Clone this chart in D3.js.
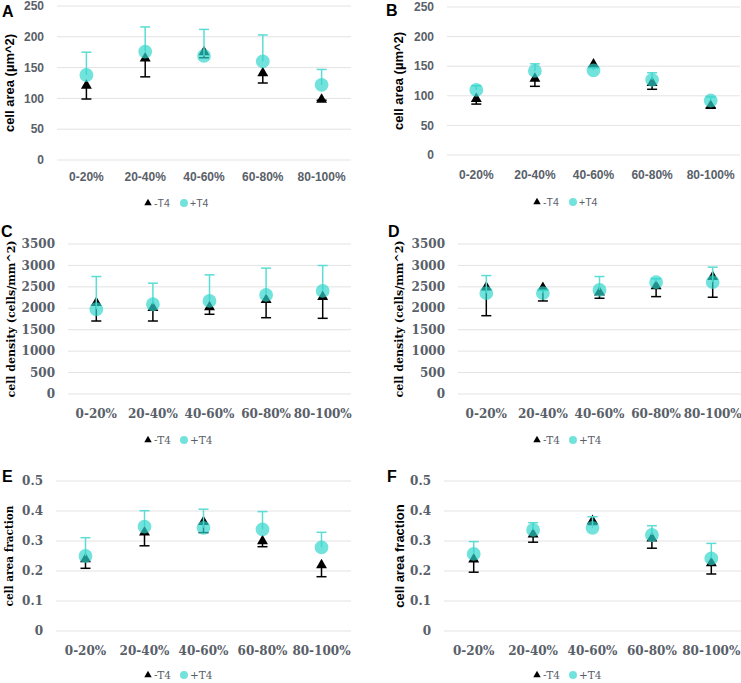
<!DOCTYPE html>
<html>
<head>
<meta charset="utf-8">
<script src="https://cdn.jsdelivr.net/npm/d3@7"></script>
<style>
  body { margin: 0; background: #fff; }
  svg { display: block; }
</style>
</head>
<body>
<svg id="chart"></svg>
<script>
const width = 741;
const height = 683;

const categories = ['0-20%', '20-40%', '40-60%', '60-80%', '80-100%'];
const seriesNames = ['-T4', '+T4'];

// A: cell area (µm^2)
const aMinus = [121, 165, 175, 141, 98];
const aMinusErr = [22, 30, 9, 16, 1];
const aPlus = [138, 176, 169, 160, 122];
const aPlusErr = [37, 40, 43, 43, 25];
const areaTicks = [0, 50, 100, 150, 200, 250];

// B: cell area (µm^2)
const bMinus = [95, 129, 153, 122, 83];
const bMinusErr = [9, 13, 4, 11, 3];
const bPlus = [110, 142, 143, 127, 92];
const bPlusErr = [7, 12, 4, 12, 6];

// C: cell density (cells/mm^2)
const cMinus = [2130, 2010, 2030, 2195, 2265];
const cMinusErr = [427, 307, 170, 415, 499];
const cPlus = [1977, 2094, 2171, 2312, 2406];
const cPlusErr = [764, 492, 609, 625, 592];
const densityTicks = [0, 500, 1000, 1500, 2000, 2500, 3000, 3500];

// D: cell density (cells/mm^2)
const dMinus = [2490, 2480, 2370, 2520, 2733];
const dMinusErr = [663, 309, 136, 248, 475];
const dPlus = [2352, 2352, 2429, 2609, 2609];
const dPlusErr = [412, 70, 312, 80, 351];

// E: cell area fraction
const eMinus = [0.24, 0.329, 0.364, 0.30, 0.22];
const eMinusErr = [0.031, 0.045, 0.036, 0.019, 0.039];
const ePlus = [0.25, 0.348, 0.344, 0.339, 0.279];
const ePlusErr = [0.061, 0.053, 0.062, 0.059, 0.05];
const fractionTicks = [0, 0.1, 0.2, 0.3, 0.4, 0.5];

// F: cell area fraction
const fMinus = [0.239, 0.322, 0.367, 0.309, 0.226];
const fMinusErr = [0.043, 0.026, 0.012, 0.033, 0.036];
const fPlus = [0.257, 0.337, 0.344, 0.32, 0.242];
const fPlusErr = [0.041, 0.024, 0.037, 0.031, 0.05];

const SANS = "'Liberation Sans', Arial, sans-serif";
const SERIF = "'DejaVu Serif', serif";

const panels = [
  { letter: 'A', title: 'cell area (µm^2)', ticks: areaTicks, max: 250,
    minus: aMinus, minusErr: aMinusErr, plus: aPlus, plusErr: aPlusErr,
    x0: 57, x1: 351, yTop: 6, yBot: 160, titleX: 9, letterX: 2, letterY: 17,
    tickFont: SANS, tickSize: 12, titleFont: SANS, titleSize: 13, catY: 181, legY: 203, legX: 148 },
  { letter: 'B', title: 'cell area (µm^2)', ticks: areaTicks, max: 250,
    minus: bMinus, minusErr: bMinusErr, plus: bPlus, plusErr: bPlusErr,
    x0: 447, x1: 740, yTop: 7, yBot: 155, titleX: 398, letterX: 386, letterY: 16,
    tickFont: SANS, tickSize: 12, titleFont: SANS, titleSize: 13, catY: 179, legY: 202, legX: 537 },
  { letter: 'C', title: 'cell density (cells/mm^2)', ticks: densityTicks, max: 3500,
    minus: cMinus, minusErr: cMinusErr, plus: cPlus, plusErr: cPlusErr,
    x0: 68, x1: 351, yTop: 244, yBot: 394, titleX: 11, letterX: 1, letterY: 237,
    tickFont: SERIF, tickSize: 12, titleFont: SERIF, titleSize: 11, catY: 418, legY: 440, legX: 148 },
  { letter: 'D', title: 'cell density (cells/mm^2)', ticks: densityTicks, max: 3500,
    minus: dMinus, minusErr: dMinusErr, plus: dPlus, plusErr: dPlusErr,
    x0: 458, x1: 741, yTop: 244, yBot: 394, titleX: 399, letterX: 388, letterY: 237,
    tickFont: SERIF, tickSize: 12, titleFont: SERIF, titleSize: 11, catY: 418, legY: 440, legX: 537 },
  { letter: 'E', title: 'cell area fraction', ticks: fractionTicks, max: 0.5,
    minus: eMinus, minusErr: eMinusErr, plus: ePlus, plusErr: ePlusErr,
    x0: 56, x1: 351, yTop: 481, yBot: 631, titleX: 9, letterX: 2, letterY: 482,
    tickFont: SERIF, tickSize: 12, titleFont: SERIF, titleSize: 10.5, catY: 655, legY: 675, legX: 148 },
  { letter: 'F', title: 'cell area fraction', ticks: fractionTicks, max: 0.5,
    minus: fMinus, minusErr: fMinusErr, plus: fPlus, plusErr: fPlusErr,
    x0: 444, x1: 741, yTop: 481, yBot: 631, titleX: 399, letterX: 387, letterY: 482,
    tickFont: SERIF, tickSize: 12, titleFont: SANS, titleSize: 13, catY: 655, legY: 675, legX: 537 }
];

const CYAN = '#2fd6cb';
const CYAN_BAR = '#5cdcd4';
const TICK_GREY = '#596069';

const svg = d3.select('#chart')
  .attr('width', width)
  .attr('height', height);

const triangle = d3.symbol().type(d3.symbolTriangle).size(52);
const dot = d3.symbol().type(d3.symbolCircle).size(150);

panels.forEach(p => {
  const g = svg.append('g');

  const x = d3.scaleBand().domain(categories).range([p.x0, p.x1]);
  const y = d3.scaleLinear().domain([0, p.max]).range([p.yBot, p.yTop]);
  const cx = d => x(d) + x.bandwidth() / 2;

  // gridlines
  g.append('g')
    .selectAll('line')
    .data(p.ticks)
    .enter().append('line')
    .attr('x1', p.x0).attr('x2', p.x1)
    .attr('y1', d => y(d)).attr('y2', d => y(d))
    .attr('stroke', '#e3e3e3')
    .attr('stroke-width', 1);

  // y tick labels
  g.append('g')
    .selectAll('text')
    .data(p.ticks)
    .enter().append('text')
    .attr('x', p.x0 - 13)
    .attr('y', d => y(d))
    .attr('dy', '0.35em')
    .attr('text-anchor', 'end')
    .attr('font-family', p.tickFont)
    .attr('font-size', p.tickSize)
    .attr('font-weight', 'bold')
    .attr('fill', TICK_GREY)
    .text(d => d);

  // category labels
  g.append('g')
    .selectAll('text')
    .data(categories)
    .enter().append('text')
    .attr('x', cx)
    .attr('y', p.catY)
    .attr('text-anchor', 'middle')
    .attr('font-family', p.tickFont)
    .attr('font-size', p.tickSize)
    .attr('font-weight', 'bold')
    .attr('fill', TICK_GREY)
    .text(d => d);

  // axis title
  g.append('text')
    .attr('transform', `translate(${p.titleX},${(p.yTop + p.yBot) / 2}) rotate(-90)`)
    .attr('text-anchor', 'middle')
    .attr('dy', '0.35em')
    .attr('font-family', p.titleFont)
    .attr('font-size', p.titleSize)
    .attr('font-weight', 'bold')
    .attr('fill', '#000')
    .text(p.title);

  // panel letter
  g.append('text')
    .attr('x', p.letterX)
    .attr('y', p.letterY)
    .attr('font-family', SANS)
    .attr('font-size', 16)
    .attr('font-weight', 'bold')
    .attr('fill', '#000')
    .text(p.letter);

  const minusData = categories.map((c, i) => ({ c, v: p.minus[i], e: p.minusErr[i] }));
  const plusData = categories.map((c, i) => ({ c, v: p.plus[i], e: p.plusErr[i] }));

  // -T4 error bars (down)
  const mb = g.append('g').attr('stroke', '#000').attr('stroke-width', 1.5);
  mb.selectAll('line.v').data(minusData).enter().append('line')
    .attr('x1', d => cx(d.c)).attr('x2', d => cx(d.c))
    .attr('y1', d => y(d.v)).attr('y2', d => y(d.v - d.e));
  mb.selectAll('line.cap').data(minusData).enter().append('line')
    .attr('x1', d => cx(d.c) - 5).attr('x2', d => cx(d.c) + 5)
    .attr('y1', d => y(d.v - d.e)).attr('y2', d => y(d.v - d.e));

  // -T4 triangles
  g.append('g')
    .selectAll('path')
    .data(minusData)
    .enter().append('path')
    .attr('d', triangle)
    .attr('transform', d => `translate(${cx(d.c)},${y(d.v)})`)
    .attr('fill', '#000');

  // +T4 error bars (up)
  const pb = g.append('g').attr('stroke', CYAN_BAR).attr('stroke-width', 1.5);
  pb.selectAll('line.v').data(plusData).enter().append('line')
    .attr('x1', d => cx(d.c)).attr('x2', d => cx(d.c))
    .attr('y1', d => y(d.v)).attr('y2', d => y(d.v + d.e));
  pb.selectAll('line.cap').data(plusData).enter().append('line')
    .attr('x1', d => cx(d.c) - 5).attr('x2', d => cx(d.c) + 5)
    .attr('y1', d => y(d.v + d.e)).attr('y2', d => y(d.v + d.e));

  // +T4 circles
  g.append('g')
    .selectAll('path')
    .data(plusData)
    .enter().append('path')
    .attr('d', dot)
    .attr('transform', d => `translate(${cx(d.c)},${y(d.v)})`)
    .attr('fill', CYAN)
    .attr('fill-opacity', 0.68);

  // legend
  const leg = g.append('g').attr('transform', `translate(${p.legX},${p.legY})`);
  leg.append('path')
    .attr('d', d3.symbol().type(d3.symbolTriangle).size(24))
    .attr('fill', '#000');
  leg.append('text')
    .attr('x', 6).attr('dy', '0.35em')
    .attr('font-family', p.tickFont)
    .attr('font-size', 10.5)
    .attr('fill', TICK_GREY)
    .text(seriesNames[0]);
  leg.append('path')
    .attr('transform', 'translate(36,0)')
    .attr('d', d3.symbol().type(d3.symbolCircle).size(50))
    .attr('fill', CYAN)
    .attr('fill-opacity', 0.68);
  leg.append('text')
    .attr('x', 42).attr('dy', '0.35em')
    .attr('font-family', p.tickFont)
    .attr('font-size', 10.5)
    .attr('fill', TICK_GREY)
    .text(seriesNames[1]);
});
</script>
</body>
</html>
